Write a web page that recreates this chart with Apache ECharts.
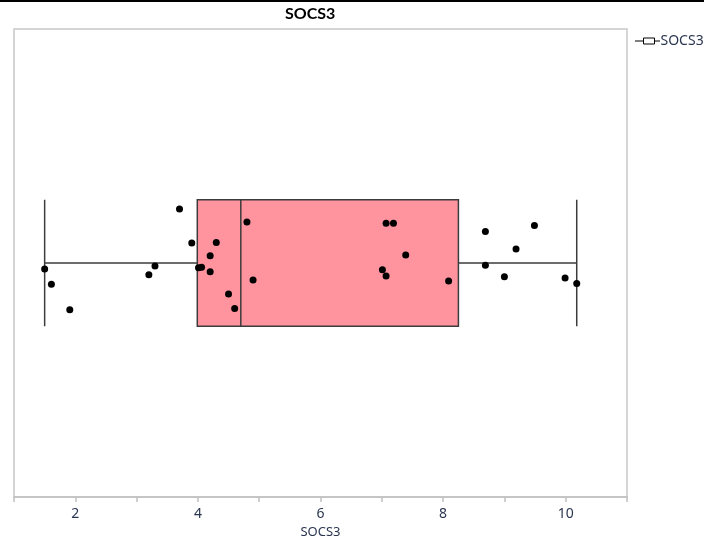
<!DOCTYPE html>
<html>
<head>
<meta charset="utf-8">
<script src="https://cdn.jsdelivr.net/npm/echarts@6/dist/echarts.min.js"></script>
<style>
html,body{margin:0;padding:0;background:#fff;}
#chart{width:704px;height:539px;}
</style>
</head>
<body>
<div id="chart"></div>
<script>
const chartTitle = 'SOCS3';
const seriesName = 'SOCS3';
const category = ['SOCS3'];
// box statistics: [min whisker, Q1, median, Q3, max whisker]
const boxStats = [1.50, 3.99, 4.70, 8.25, 10.18];
// observed values and their vertical jitter
const values = [1.50,1.61,1.91,3.20,3.30,3.70,3.90,4.01,4.06,4.20,4.20,4.30,4.50,4.60,4.80,4.90,7.01,7.07,7.07,7.19,7.39,8.09,8.69,8.69,9.00,9.19,9.49,9.99,10.18];
const jitter = [-0.026,-0.091,-0.200,-0.050,-0.013,0.231,0.085,-0.020,-0.018,0.031,-0.037,0.088,-0.132,-0.194,0.175,-0.073,-0.029,0.170,-0.056,0.170,0.034,-0.077,0.135,-0.010,-0.059,0.060,0.160,-0.064,-0.088];
const xTickLabels = ['2','4','6','8','10'];

const points = values.map((v, i) => [v, jitter[i]]);

const chart = echarts.init(document.getElementById('chart'), null, {renderer: 'canvas'});
chart.setOption({
  animation: false,
  backgroundColor: '#fff',
  title: {
    text: chartTitle,
    left: 285,
    top: 6,
    padding: 0,
    textStyle: {fontFamily: 'Lato', fontWeight: 'bold', fontSize: 16, color: '#000'}
  },
  legend: {
    left: 643,
    top: 34,
    padding: 0,
    data: [seriesName],
    icon: 'rect',
    itemWidth: 11,
    itemHeight: 6,
    itemGap: 0,
    itemStyle: {color: '#fff', borderColor: '#000', borderWidth: 1},
    textStyle: {fontFamily: 'Noto Sans', fontSize: 14, color: '#2a3550', padding: [0, 0, 0, 1]}
  },
  grid: {left: 14, right: 77, top: 29, bottom: 42, outerBoundsMode: 'none', containLabel: false, show: true, borderColor: '#c8c8c8', borderWidth: 1.5, backgroundColor: '#fff'},
  xAxis: {
    type: 'value',
    min: 1, max: 11, interval: 1,
    name: 'SOCS3',
    nameLocation: 'middle',
    nameGap: 28,
    nameTextStyle: {fontFamily: 'Noto Sans', fontSize: 13, color: '#2a3550'},
    splitLine: {show: false},
    axisLine: {show: true, onZero: false, lineStyle: {color: '#c0c0c0', width: 1.5}},
    axisTick: {show: true, length: 5, lineStyle: {color: '#c0c0c0', width: 1.5}},
    axisLabel: {
      margin: 10,
      fontFamily: 'Noto Sans', fontSize: 14, color: '#2a3550',
      formatter: v => xTickLabels.indexOf(String(v)) >= 0 ? String(v) : ''
    }
  },
  yAxis: [
    {type: 'category', data: category, show: false, boundaryGap: true},
    {type: 'value', min: -1, max: 1, show: false, splitLine: {show: false}}
  ],
  series: [
    {
      name: seriesName,
      type: 'boxplot',
      yAxisIndex: 0,
      boxWidth: ['27%', '27%'],
      itemStyle: {color: '#ff949f', borderColor: '#3c3c3c', borderWidth: 1.5},
      data: [boxStats]
    },
    {
      name: 'points',
      type: 'scatter',
      yAxisIndex: 1,
      symbol: 'circle',
      symbolSize: 7,
      itemStyle: {color: '#000', opacity: 1},
      data: points,
      z: 5
    }
  ],
  graphic: [
    {type: 'rect', left: 0, top: 0, shape: {width: 704, height: 2}, style: {fill: '#000'}},
    {type: 'line', shape: {x1: 635, y1: 41, x2: 643, y2: 41}, style: {stroke: '#000', lineWidth: 1}},
    {type: 'line', shape: {x1: 654, y1: 41, x2: 660, y2: 41}, style: {stroke: '#000', lineWidth: 1}}
  ]
});
</script>
</body>
</html>
